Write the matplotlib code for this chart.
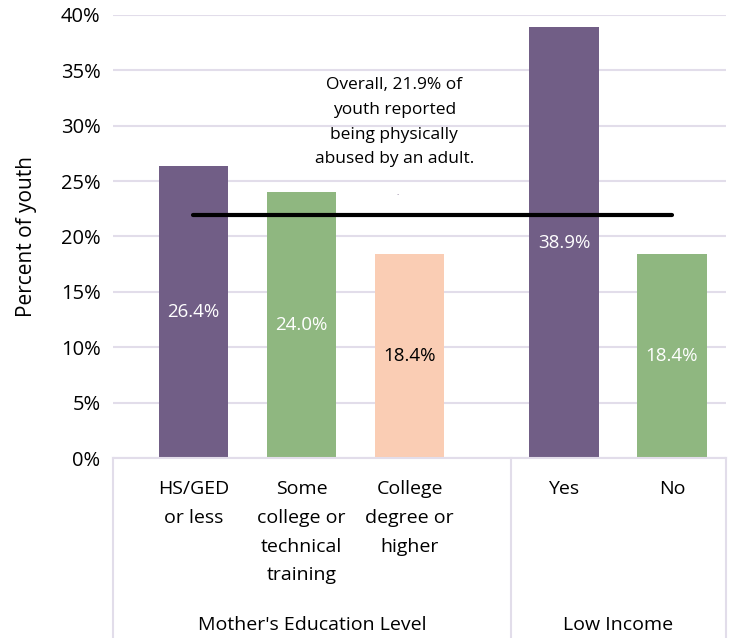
import matplotlib
matplotlib.use("Agg")
import matplotlib.pyplot as plt
import matplotlib.transforms as mtransforms
from matplotlib.ticker import PercentFormatter

plt.rcParams['font.family'] = ['Open Sans', 'DejaVu Sans']

# ---- data ----
categories = ["HS/GED\nor less", "Some\ncollege or\ntechnical\ntraining",
              "College\ndegree or\nhigher", "Yes", "No"]
groups = ["Mother's Education Level", "Low Income"]
group_sizes = [3, 2]
values = [26.4, 24.0, 18.4, 38.9, 18.4]
overall = 21.9
value_labels = ["26.4%", "24.0%", "18.4%", "38.9%", "18.4%"]
note = "Overall, 21.9% of\nyouth reported\nbeing physically\nabused by an adult."
yticks = [0, 5, 10, 15, 20, 25, 30, 35, 40]

# ---- style ----
colors = ["#715E86", "#8FB780", "#FACDB4", "#715E86", "#8FB780"]
label_colors = ["white", "white", "black", "white", "white"]
grid_color = "#E2DDEA"
group_gap = 0.43

# positions: category index with a gap between groups
positions = []
idx = 0
for g, n in enumerate(group_sizes):
    for k in range(n):
        positions.append(idx + g * group_gap)
        idx += 1

fig = plt.figure(figsize=(7.3, 6.38), dpi=100)
ax = fig.add_axes([113 / 730, 1 - 458 / 638, (726 - 113) / 730, (458 - 15) / 638])

ax.bar(positions, values, width=0.64, color=colors, zorder=2)
for x, v, lab, c in zip(positions, values, value_labels, label_colors):
    ax.text(x, v / 2, lab, ha="center", va="center", color=c, fontsize=13.5, zorder=4)

ax.plot([positions[0], positions[-1]], [overall, overall], color="black",
        lw=3.0, solid_capstyle="round", zorder=3)

ax.text(1.86, 30.3, note, ha="center", va="center", fontsize=12.5,
        linespacing=1.72, zorder=4)
ax.text(1.89, 23.9, ".", ha="center", va="center", fontsize=6, color="#715E86")

ax.set_xlim(-0.745, 4.93)
ax.set_ylim(0, 40)
ax.set_yticks(yticks)
ax.yaxis.set_major_formatter(PercentFormatter(decimals=0))
ax.tick_params(axis="y", length=0, labelsize=14.5, pad=9)
ax.set_xticks([])
ax.grid(axis="y", color=grid_color, lw=1.5, zorder=0)
for s in ["top", "right", "left", "bottom"]:
    ax.spines[s].set_visible(False)
ax.set_ylabel("Percent of youth", fontsize=15, labelpad=17)

# category axis box
trans = mtransforms.blended_transform_factory(ax.transData, ax.transAxes)
bottom = -0.41
ax.plot([-0.745, 4.93], [0, 0], color=grid_color, lw=1.5, transform=trans, clip_on=False)
seps = [-0.745, 2.94, 4.93]
for s in seps:
    ax.plot([s, s], [0, bottom], color=grid_color, lw=1.5, transform=trans, clip_on=False)

for x, c in zip(positions, categories):
    ax.text(x, -0.05, c, ha="center", va="top", fontsize=14, linespacing=1.77,
            transform=trans)

group_centers = [(seps[0] + seps[1]) / 2, (seps[1] + seps[2]) / 2]
for gc, g in zip(group_centers, groups):
    ax.text(gc, -0.376, g, ha="center", va="center", fontsize=14, transform=trans)

fig.savefig("out.png", dpi=100)
